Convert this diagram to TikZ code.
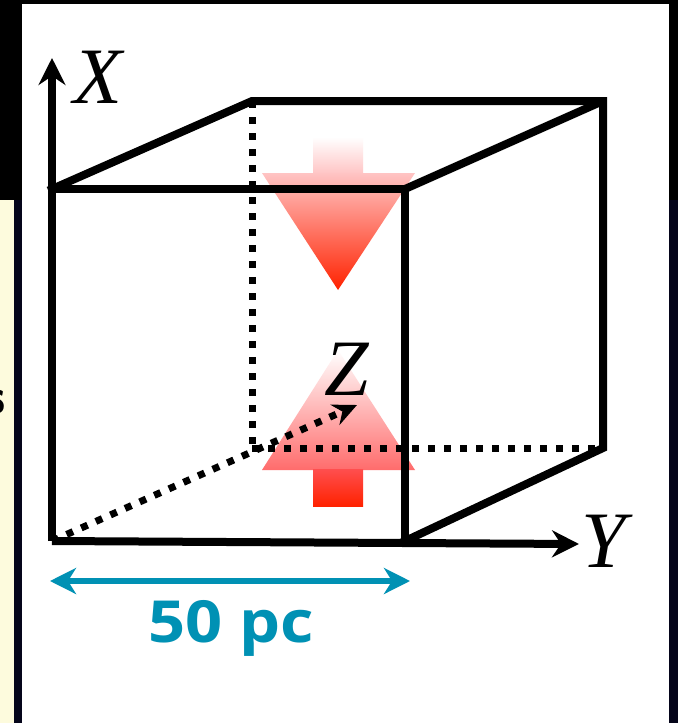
\documentclass[tikz,border=0pt]{standalone}
\usepackage{fontspec}
\setmainfont{Liberation Serif}
\newfontfamily\dimfont{Open Sans}
\usetikzlibrary{arrows.meta}
\definecolor{bgdark}{HTML}{05051A}
\definecolor{cream}{HTML}{FDFBDD}
\definecolor{dimblue}{RGB}{0,145,180}
\definecolor{arrred}{HTML}{FF2200}
\definecolor{arrpink}{HTML}{FFC4C4}
\tikzset{
  edge/.style={line width=8pt, line join=miter, line cap=rect},
  hidden/.style={line width=7pt, dash pattern=on 7pt off 9pt},
  axistip/.style={-{Stealth[length=27pt,width=27pt,inset=9pt]}},
  axislab/.style={font=\fontsize{80}{80}\selectfont\itshape, inner sep=0pt, anchor=base},
  dimlab/.style={font=\dimfont\bfseries\fontsize{58}{58}\selectfont, text=dimblue, inner sep=0pt, anchor=base, xscale=1.12},
}
\begin{document}
\begin{tikzpicture}[x=1pt,y=-1pt]
\useasboundingbox (0,0) rectangle (678,723);
% background
\fill[bgdark] (0,0) rectangle (678,723);
\fill[black] (0,0) rectangle (678,200);
\fill[cream] (0,200) rectangle (14,723);
\begin{scope}
  \clip (0,200) rectangle (14,723);
  \node[font=\sffamily\bfseries\fontsize{50}{50}\selectfont, inner sep=0pt, anchor=base east] (cut) at (6,413) {s};
\end{scope}
\fill[white] (22,4) rectangle (669,723);

% red arrows (behind cube)
\shade[top color=white, bottom color=arrpink] (313,137) rectangle (363,174);
\shade[top color=arrpink, bottom color=arrred] (262,173) -- (415,173) -- (338,290) -- cycle;
\shade[top color=white, bottom color=red!45!arrpink] (338,350) -- (415,470) -- (262,470) -- cycle;
\shade[top color=red!60!arrpink, bottom color=arrred] (313,469) rectangle (363,506);

% cube coordinates
\coordinate (O) at (52,541);
\coordinate (A) at (52,189);
\coordinate (B) at (405,189);
\coordinate (C) at (405,541);
\coordinate (D) at (252,101);
\coordinate (E) at (603,101);
\coordinate (F) at (603,448);
\coordinate (G) at (252,448);
\coordinate (Xtip) at (52,58);
\coordinate (Ytip) at (579,544);
\coordinate (Ztip) at (357,405);

% hidden edges
\draw[hidden] (D) -- (G);
\draw[hidden] (G) -- (F);
\draw[hidden, -{Stealth[length=24pt,width=22pt,inset=8pt]}] (O) -- (Ztip);

% visible edges
\draw[edge] (A) -- (B) -- (C);
\draw[edge] (A) -- (D) -- (E) -- (F) -- (C);
\draw[edge, line cap=butt] (E) -- (B);
\draw[edge, line cap=butt, axistip] (O) -- (Xtip);
\draw[edge, line cap=butt, axistip] (O) -- (Ytip);

% axis labels
\node[axislab] (xl) at (98,103) {X};
\node[axislab] (yl) at (604,567) {Y};
\node[axislab] (zl) at (347,395) {Z};

% dimension
\coordinate (d1) at (50,581);
\coordinate (d2) at (410,581);
\draw[dimblue, line width=6pt, {Stealth[length=26pt,width=26pt,inset=8pt]}-{Stealth[length=26pt,width=26pt,inset=8pt]}] (d1) -- (d2);
\node[dimlab] (dl) at (231,642) {50 pc};
\end{tikzpicture}
\end{document}
